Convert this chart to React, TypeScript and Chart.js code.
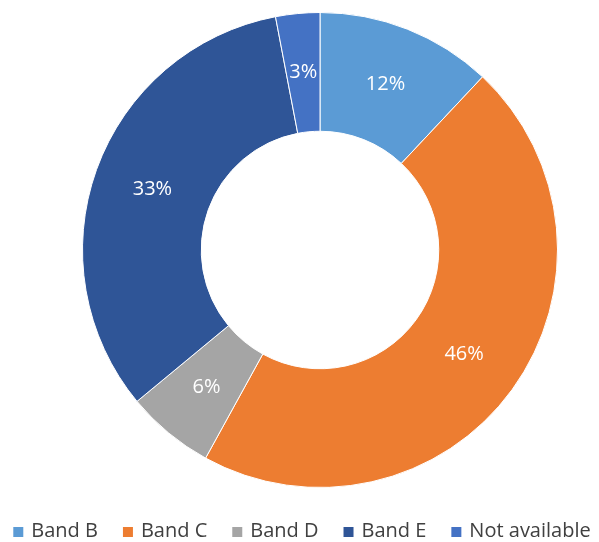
import React, { useEffect, useRef } from "react";
import { Chart, registerables } from "chart.js";

Chart.register(...registerables);

const categories = ["Band B", "Band C", "Band D", "Band E", "Not available"];
const values = [12, 46, 6, 33, 3];
const colors = ["#5B9BD5", "#ED7D31", "#A5A5A5", "#2F5597", "#4472C4"];

const FONT = "'Open Sans', sans-serif";

const labelPlugin = {
  id: "sliceLabels",
  afterDatasetsDraw(chart: any) {
    const ctx = chart.ctx;
    const meta = chart.getDatasetMeta(0);
    const total = values.reduce((a, b) => a + b, 0);
    ctx.save();
    ctx.fillStyle = "#FFFFFF";
    ctx.font = "20px " + FONT;
    ctx.textAlign = "center";
    ctx.textBaseline = "middle";
    meta.data.forEach((arc: any, i: number) => {
      const p = arc.tooltipPosition();
      const pct = Math.round((values[i] / total) * 100);
      ctx.fillText(pct + "%", p.x, p.y);
    });
    ctx.restore();
  },
};

const legendPlugin = {
  id: "bottomLegend",
  afterDraw(chart: any) {
    const ctx = chart.ctx;
    const box = 10;
    const boxGap = 8;
    const itemGap = 25;
    const y = 531;
    ctx.save();
    ctx.font = "20px " + FONT;
    ctx.textBaseline = "middle";
    ctx.textAlign = "left";
    const widths = categories.map((c) => ctx.measureText(c).width);
    const total =
      widths.reduce((a, w) => a + box + boxGap + w, 0) + itemGap * (categories.length - 1);
    let x = 302 - total / 2;
    categories.forEach((c, i) => {
      ctx.fillStyle = colors[i];
      ctx.fillRect(x, y - box / 2 + 1, box, box);
      ctx.fillStyle = "#404040";
      ctx.fillText(c, x + box + boxGap, y);
      x += box + boxGap + widths[i] + itemGap;
    });
    ctx.restore();
  },
};

export default function App() {
  const ref = useRef<HTMLCanvasElement>(null);
  useEffect(() => {
    document.body.style.margin = "0";
    const chart = new Chart(ref.current!, {
      type: "doughnut",
      data: {
        labels: categories,
        datasets: [
          {
            data: values,
            backgroundColor: colors,
            borderColor: "#FFFFFF",
            borderWidth: 1,
          },
        ],
      },
      options: {
        animation: false,
        responsive: false,
        cutout: "50%",
        layout: { padding: { top: 12, left: 82, right: 41, bottom: 54 } },
        plugins: {
          tooltip: { enabled: false },
          legend: { display: false },
        },
      },
      plugins: [labelPlugin, legendPlugin],
    });
    return () => chart.destroy();
  }, []);
  return (
    <div style={{ width: 599, height: 542 }}>
      <canvas ref={ref} width={599} height={542} style={{ width: 599, height: 542 }} />
    </div>
  );
}
